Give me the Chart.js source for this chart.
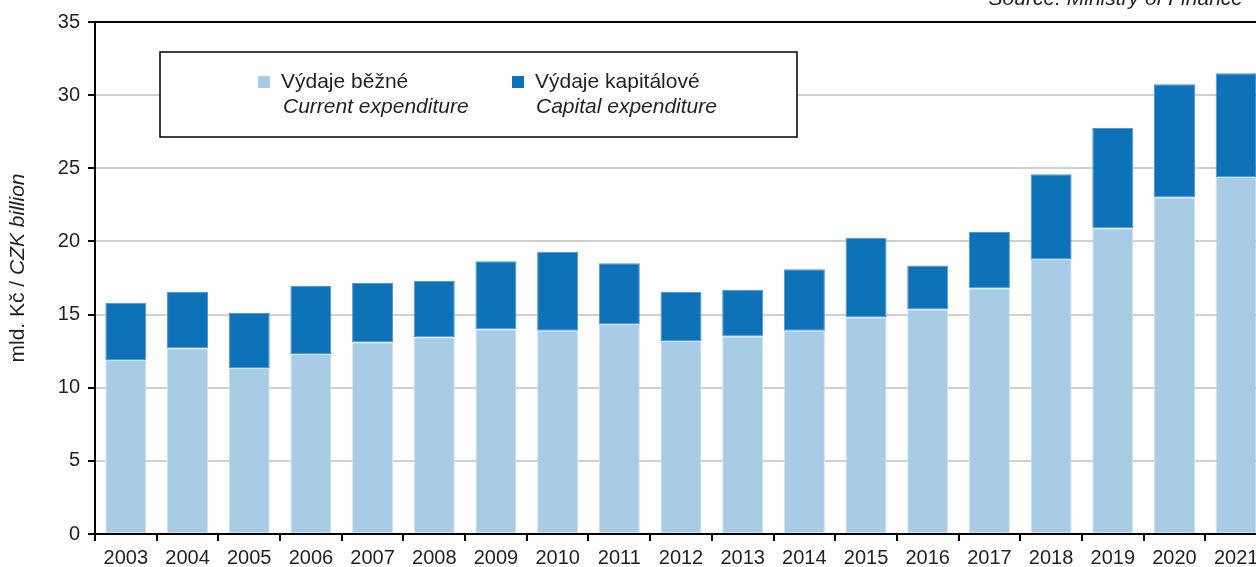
<!DOCTYPE html>
<html>
<head>
<meta charset="utf-8">
<script src="https://cdn.jsdelivr.net/npm/chart.js@4/dist/chart.umd.min.js"></script>
<style>
    html, body { margin: 0; padding: 0; background: #fff; overflow: hidden; }
    #wrap { position: absolute; left: 0; top: -20px; width: 1268px; height: 590px; }
</style>
</head>
<body>
<div id="wrap"><canvas id="expChart"></canvas></div>
<script>
// data (mld. Kč)
const years = ['2003', '2004', '2005', '2006', '2007', '2008', '2009', '2010', '2011', '2012',
               '2013', '2014', '2015', '2016', '2017', '2018', '2019', '2020', '2021'];
const currentExp = [11.9, 12.7, 11.35, 12.3, 13.1, 13.45, 14.0, 13.9, 14.35, 13.2,
                    13.5, 13.9, 14.8, 15.35, 16.8, 18.8, 20.9, 23.0, 24.4];
const capitalExp = [3.9, 3.85, 3.75, 4.65, 4.05, 3.85, 4.65, 5.4, 4.15, 3.35,
                    3.2, 4.2, 5.45, 3.0, 3.85, 5.8, 6.85, 7.75, 7.1];
const legendMain = ['Výdaje běžné', 'Výdaje kapitálové'];
const legendSub = ['Current expenditure', 'Capital expenditure'];
const yTitleMain = 'mld. Kč / ';
const yTitleSub = 'CZK billion';
const sourceText = 'Source: Ministry of Finance';

const FONT = '"Liberation Sans", Arial, sans-serif';
const TEXT = '#231f20';
const LIGHT = '#a9cce6';
const DARK = '#0e72b9';

// legend box, y title, source note and the top frame line
const decorations = {
    id: 'decorations',
    afterDraw(chart) {
        const ctx = chart.ctx;
        const a = chart.chartArea;
        ctx.save();

        // top line
        ctx.strokeStyle = '#000';
        ctx.lineWidth = 2;
        ctx.beginPath();
        ctx.moveTo(a.left - 7, a.top);
        ctx.lineTo(chart.width, a.top);
        ctx.stroke();

        // source note (cut by the top edge in the reference)
        ctx.fillStyle = TEXT;
        ctx.font = 'italic 21px ' + FONT;
        ctx.textAlign = 'right';
        ctx.textBaseline = 'alphabetic';
        ctx.fillText(sourceText, chart.width - 25, a.top - 17);

        // y axis title, mixed upright/italic
        ctx.save();
        ctx.translate(18, (a.top + a.bottom) / 2 - 10);
        ctx.rotate(-Math.PI / 2);
        ctx.textBaseline = 'middle';
        ctx.textAlign = 'left';
        ctx.font = '21px ' + FONT;
        const w1 = ctx.measureText(yTitleMain).width;
        ctx.font = 'italic 21px ' + FONT;
        const w2 = ctx.measureText(yTitleSub).width;
        let x0 = -(w1 + w2) / 2;
        ctx.font = '21px ' + FONT;
        ctx.fillText(yTitleMain, x0, 0);
        ctx.font = 'italic 21px ' + FONT;
        ctx.fillText(yTitleSub, x0 + w1, 0);
        ctx.restore();

        // legend box
        const bx = a.left + 65, by = a.top + 30, bw = 637, bh = 85;
        ctx.fillStyle = '#fff';
        ctx.fillRect(bx, by, bw, bh);
        ctx.strokeStyle = '#000';
        ctx.lineWidth = 1.5;
        ctx.strokeRect(bx, by, bw, bh);

        chart.data.datasets.forEach((ds, i) => {
            const cx = a.left + 163 + i * 254;
            ctx.fillStyle = ds.backgroundColor;
            ctx.fillRect(cx, a.top + 54, 12, 12);
            ctx.fillStyle = TEXT;
            ctx.textAlign = 'left';
            ctx.textBaseline = 'middle';
            ctx.font = '21px ' + FONT;
            ctx.fillText(legendMain[i], cx + 23, a.top + 60);
            ctx.font = 'italic 21px ' + FONT;
            ctx.fillText(legendSub[i], cx + 25 - i * 1, a.top + 85);
        });

        ctx.restore();
    }
};

const ctx = document.getElementById('expChart').getContext('2d');
const expChart = new Chart(ctx, {
    type: 'bar',
    data: {
        labels: years,
        datasets: [
            {
                label: legendMain[0],
                data: currentExp,
                backgroundColor: LIGHT,
                borderColor: '#cfe2f1',
                borderWidth: 1,
                borderSkipped: false,
                barPercentage: 0.665,
                categoryPercentage: 1
            },
            {
                label: legendMain[1],
                data: capitalExp,
                backgroundColor: DARK,
                borderColor: '#4f97d0',
                borderWidth: 1,
                borderSkipped: false,
                barPercentage: 0.665,
                categoryPercentage: 1
            }
        ]
    },
    options: {
        responsive: true,
        maintainAspectRatio: false,
        animation: false,
        layout: { padding: { top: 42, right: 1, left: 0, bottom: 0 } },
        plugins: {
            legend: { display: false },
            tooltip: { enabled: false }
        },
        scales: {
            x: {
                stacked: true,
                afterFit: scale => { scale.height = 36; },
                grid: {
                    offset: true,
                    drawOnChartArea: false,
                    color: '#000',
                    lineWidth: 2,
                    tickLength: 7
                },
                border: { color: '#000', width: 2 },
                ticks: {
                    color: TEXT,
                    font: { family: FONT, size: 20 },
                    padding: 5,
                    maxRotation: 0,
                    autoSkip: false
                }
            },
            y: {
                stacked: true,
                min: 0,
                max: 35,
                afterFit: scale => { scale.width = 95; },
                grid: {
                    color: '#d0d0d0',
                    lineWidth: 2,
                    tickColor: '#000',
                    tickLength: 7
                },
                border: { color: '#000', width: 2 },
                ticks: {
                    stepSize: 5,
                    color: TEXT,
                    font: { family: FONT, size: 20 },
                    padding: 8
                }
            }
        }
    },
    plugins: [decorations]
});
</script>
</body>
</html>
